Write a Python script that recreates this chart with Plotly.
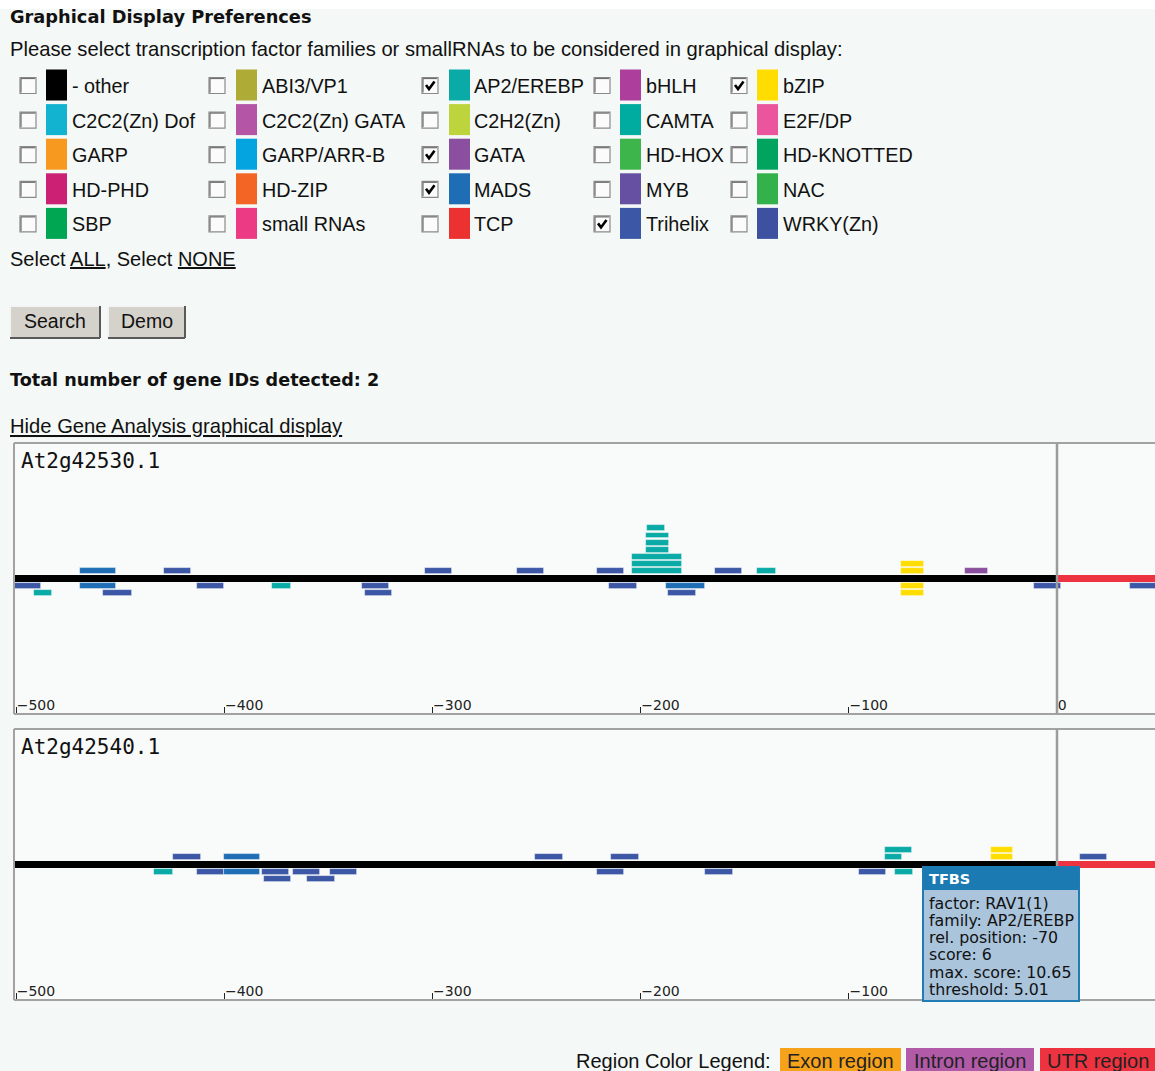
import plotly.graph_objects as go

W, H = 1155, 1071

# ---------------- data ----------------
FAMILIES = ["- other", "ABI3/VP1", "AP2/EREBP", "bHLH", "bZIP",
            "C2C2(Zn) Dof", "C2C2(Zn) GATA", "C2H2(Zn)", "CAMTA", "E2F/DP",
            "GARP", "GARP/ARR-B", "GATA", "HD-HOX", "HD-KNOTTED",
            "HD-PHD", "HD-ZIP", "MADS", "MYB", "NAC",
            "SBP", "small RNAs", "TCP", "Trihelix", "WRKY(Zn)"]
FAMILY_COLORS = ["#000000", "#aeab36", "#0aaaa6", "#ae3e9c", "#ffdd00",
                 "#12b3d0", "#b455a6", "#bdd43c", "#00ab9f", "#ea559e",
                 "#f7991f", "#03a4df", "#8a4f9e", "#3db54b", "#00a45f",
                 "#cb2073", "#f26524", "#1f6eb5", "#6650a2", "#33b14a",
                 "#00a651", "#ed3a85", "#ec3131", "#3c57a6", "#3e50a0"]
CHECKED = ["AP2/EREBP", "bZIP", "GATA", "MADS", "Trihelix"]

GENES = ["At2g42530.1", "At2g42540.1"]
TICK_VALUES = [-500, -400, -300, -200, -100, 0]
PROMOTER = [-501, 0]
UTR = [0, 60]

# gene 1 TFBS: start, end, family, stack row (+ above line, - below line)
G1_START = [-501, -491.5, -469.5, -469.5, -458, -429, -413, -377, -334, -332.5,
            -303.5, -259.5, -221, -215, -204, -204, -204, -197.5, -197.5, -197.5,
            -197, -188, -187, -164.5, -144, -75, -75, -75, -75, -44, -11, 35]
G1_END = [-488, -482.5, -452, -452, -444.5, -416, -400, -368, -321, -319.5,
          -290.5, -246.5, -208, -201.5, -180, -180, -180, -186.5, -186.5, -186.5,
          -188.5, -169, -173.5, -151.5, -135, -64, -64, -64, -64, -33, 2, 48]
G1_FAMILY = ["Trihelix", "AP2/EREBP", "MADS", "MADS", "Trihelix", "Trihelix", "Trihelix",
             "AP2/EREBP", "Trihelix", "Trihelix", "Trihelix", "Trihelix", "Trihelix",
             "Trihelix", "AP2/EREBP", "AP2/EREBP", "AP2/EREBP", "AP2/EREBP", "AP2/EREBP",
             "AP2/EREBP", "AP2/EREBP", "MADS", "Trihelix", "Trihelix", "AP2/EREBP",
             "bZIP", "bZIP", "bZIP", "bZIP", "GATA", "Trihelix", "Trihelix"]
G1_ROW = [-1, -2, 1, -1, -2, 1, -1, -1, -1, -2,
          1, 1, 1, -1, 1, 2, 3, 4, 5, 6,
          7, -1, -2, 1, 1, 1, 2, -1, -2, 1, -1, -1]

# gene 2 TFBS
G2_START = [-433.5, -424.5, -400, -413, -400, -382, -381, -367, -360, -349,
            -250.5, -214, -221, -169, -95, -82.5, -82.5, -78, -31.5, -31.5, 11]
G2_END = [-424.5, -411, -383, -400, -383, -369, -368, -354, -347, -336,
          -237.5, -201, -208, -155.5, -82, -74.5, -69.5, -69, -21, -21, 24]
G2_FAMILY = ["AP2/EREBP", "Trihelix", "MADS", "Trihelix", "MADS", "Trihelix", "Trihelix",
             "Trihelix", "Trihelix", "Trihelix", "Trihelix", "Trihelix", "Trihelix",
             "Trihelix", "Trihelix", "AP2/EREBP", "AP2/EREBP", "AP2/EREBP", "bZIP",
             "bZIP", "Trihelix"]
G2_ROW = [-1, 1, 1, -1, -1, -1, -2, -1, -2, -1,
          1, 1, -1, -1, -1, 1, 2, -1, 1, 2, 1]

TOOLTIP_TITLE = "TFBS"
TOOLTIP_LINES = ["factor: RAV1(1)", "family: AP2/EREBP", "rel. position: -70",
                 "score: 6", "max. score: 10.65", "threshold: 5.01"]

REGION_LEGEND = ["Exon region", "Intron region", "UTR region"]
REGION_COLORS = ["#f7a21b", "#b05aa8", "#ee3340"]

# ---------------- layout constants ----------------
PAGE_BG = "#f4f8f6"
PANEL_BG = "#f8fbf9"
BORDER = "#a2a2a2"
SANS = "Liberation Sans"
VERD = "DejaVu Sans"

PANEL_LEFT = 14
ZERO_PX = 1057
PX_PER_BP = 2.082
PANEL_TOPS = [443, 729]
PANEL_H = 271
ROW_PX = 7.17
XR = [(PANEL_LEFT - ZERO_PX) / PX_PER_BP, (W - ZERO_PX) / PX_PER_BP]
YHALF = PANEL_H / 2 / ROW_PX

fam_color = dict(zip(FAMILIES, FAMILY_COLORS))


def px(x):
    return x / W


def py(y):
    return 1 - y / H


def rect(x0, y0, x1, y1, fill=None, line=None, lw=0, layer="below"):
    d = dict(type="rect", xref="paper", yref="paper", x0=px(x0), x1=px(x1),
             y0=py(y1), y1=py(y0), layer=layer, line=dict(width=lw, color=line or "rgba(0,0,0,0)"))
    if fill:
        d["fillcolor"] = fill
    return d


def seg(x0, y0, x1, y1, color, lw, layer="below"):
    return dict(type="line", xref="paper", yref="paper", x0=px(x0), x1=px(x1),
                y0=py(y0), y1=py(y1), layer=layer, line=dict(color=color, width=lw))


def txt(x, y, s, size, family=SANS, color="#111", xanchor="left"):
    return dict(x=px(x), y=py(y), xref="paper", yref="paper", text=s, showarrow=False,
                xanchor=xanchor, yanchor="middle", font=dict(size=size, family=family, color=color),
                borderpad=0)


fig = go.Figure()
shapes = []
annos = []

# top white band
shapes.append(rect(0, 0, W, 9, fill="#ffffff"))

# ---------------- header texts ----------------
annos.append(txt(9, 17, "<b>Graphical Display Preferences</b>", 17.8, VERD, "#111"))
annos.append(txt(9, 49, "Please select transcription factor families or smallRNAs to be considered in graphical display:", 20.2))

COL_CB = [20, 209, 422, 594, 731]
COL_SW = [46, 236, 449, 620, 757]
COL_LB = [71, 261, 473, 645, 782]
ROW_Y = [85, 119.6, 154.2, 188.8, 223.4]

for i, (name, col) in enumerate(zip(FAMILIES, FAMILY_COLORS)):
    r, c = divmod(i, 5)
    yc = ROW_Y[r]
    # checkbox
    cx0, cy0 = COL_CB[c], yc - 7.5
    shapes.append(rect(cx0, cy0, cx0 + 16, cy0 + 16, fill="#fbfbfb", line="#8a8a8a", lw=1.2))
    shapes.append(seg(cx0 + 1, cy0 + 1, cx0 + 15, cy0 + 1, "#6e6e6e", 1.2))
    shapes.append(seg(cx0 + 1, cy0 + 1, cx0 + 1, cy0 + 15, "#6e6e6e", 1.2))
    if name in CHECKED:
        path = "M {} {} L {} {} L {} {}".format(
            px(cx0 + 4), py(cy0 + 7.5), px(cx0 + 7), py(cy0 + 11.5), px(cx0 + 12.5), py(cy0 + 4))
        shapes.append(dict(type="path", xref="paper", yref="paper", path=path,
                           line=dict(color="#000", width=2.6)))
    # swatch
    shapes.append(rect(COL_SW[c], yc - 15.5, COL_SW[c] + 21, yc + 15.5, fill=col))
    annos.append(txt(COL_LB[c], yc + 1, name, 19.8))

annos.append(txt(9, 259, "Select <u>ALL</u>, Select <u>NONE</u>", 20))

# buttons
for (bx0, bx1, label) in [(10, 100, "Search"), (108, 185, "Demo")]:
    shapes.append(rect(bx0, 306, bx1, 338, fill="#d5d2cb"))
    shapes.append(seg(bx0, 306, bx1, 306, "#f4f4f4", 2))
    shapes.append(seg(bx0, 306, bx0, 338, "#f4f4f4", 2))
    shapes.append(seg(bx0, 338, bx1, 338, "#5a5a5a", 2))
    shapes.append(seg(bx1, 306, bx1, 338, "#5a5a5a", 2))
    annos.append(txt((bx0 + bx1) / 2, 321, label, 19.5, xanchor="center"))

annos.append(txt(9, 380, "<b>Total number of gene IDs detected: 2</b>", 17.6, VERD, "#111"))
annos.append(txt(9, 426, "<u>Hide Gene Analysis graphical display</u>", 20.2))

# ---------------- gene panels ----------------
genes_data = [(G1_START, G1_END, G1_FAMILY, G1_ROW), (G2_START, G2_END, G2_FAMILY, G2_ROW)]
layout_axes = {}
for gi, (gname, (st, en, fm, rw)) in enumerate(zip(GENES, genes_data)):
    xa = "x" if gi == 0 else "x2"
    ya = "y" if gi == 0 else "y2"
    top = PANEL_TOPS[gi]
    bottom = top + PANEL_H
    # promoter and UTR lines
    fig.add_trace(go.Bar(orientation="h", y=[0], base=[PROMOTER[0]], x=[PROMOTER[1] - PROMOTER[0]],
                         width=1.0, marker=dict(color="#000000", line=dict(width=0)),
                         xaxis=xa, yaxis=ya, showlegend=False, hoverinfo="skip"))
    fig.add_trace(go.Bar(orientation="h", y=[0], base=[UTR[0]], x=[UTR[1] - UTR[0]],
                         width=1.0, marker=dict(color=REGION_COLORS[2], line=dict(width=0)),
                         xaxis=xa, yaxis=ya, showlegend=False, hoverinfo="skip"))
    fig.add_trace(go.Bar(orientation="h", y=rw, base=st, x=[e - s for s, e in zip(st, en)],
                         width=0.8,
                         marker=dict(color=[fam_color[f] for f in fm],
                                     line=dict(width=0.8, color="rgba(255,255,255,0.55)")),
                         xaxis=xa, yaxis=ya, showlegend=False,
                         customdata=fm, hovertemplate="%{customdata}<extra></extra>"))
    dom_y = [py(bottom), py(top)]
    xkey = "xaxis" if gi == 0 else "xaxis2"
    ykey = "yaxis" if gi == 0 else "yaxis2"
    layout_axes[xkey] = dict(domain=[px(PANEL_LEFT), 1], range=XR, anchor=ya,
                             showgrid=False, zeroline=False, showline=False,
                             tickvals=TICK_VALUES, ticks="inside", ticklen=7, tickwidth=1.4,
                             tickcolor="#222", ticklabelposition="inside right",
                             ticklabelstandoff=-5,
                             tickfont=dict(size=14, family=VERD, color="#222"),
                             fixedrange=True)
    layout_axes[ykey] = dict(domain=dom_y, range=[-YHALF, YHALF], anchor=xa, visible=False,
                             fixedrange=True)
    # panel border
    shapes.append(seg(PANEL_LEFT, top, W, top, BORDER, 2, "above"))
    shapes.append(seg(PANEL_LEFT, bottom, W, bottom, BORDER, 2, "above"))
    shapes.append(seg(PANEL_LEFT, top, PANEL_LEFT, bottom, BORDER, 2, "above"))
    # zero line
    shapes.append(dict(type="line", xref=xa, yref=ya + " domain", x0=0, x1=0, y0=0, y1=1,
                       layer="above", line=dict(color="#9c9c9c", width=2.5)))
    annos.append(txt(20, top + 18, gname, 21, "DejaVu Sans Mono", "#111"))

# ---------------- tooltip ----------------
TX0, TY0, TX1, TY1 = 923, 867, 1079, 1001
shapes.append(rect(TX0, TY0, TX1, TY1, fill="#a9c4db", line="#1f7cb5", lw=2, layer="above"))
shapes.append(rect(TX0, TY0, TX1, 890, fill="#1b7ab2", layer="above"))
annos.append(txt(927.5, 879, "<b>" + TOOLTIP_TITLE + "</b>", 14.5, VERD, "#ffffff"))
for k, line in enumerate(TOOLTIP_LINES):
    annos.append(txt(927.5, 903.3 + k * 17.2, line, 15.8, VERD, "#111"))

# ---------------- region colour legend ----------------
annos.append(txt(575, 1061, "Region Color Legend:", 20))
REG_X = [(780, 901), (906, 1034), (1040, 1155)]
for (x0, x1), lab, col in zip(REG_X, REGION_LEGEND, REGION_COLORS):
    shapes.append(rect(x0, 1048, x1, 1071, fill=col))
    annos.append(txt((x0 + x1) / 2, 1061, lab, 20, SANS, "#222", xanchor="center"))

fig.update_layout(width=W, height=H, margin=dict(l=0, r=0, t=0, b=0),
                  paper_bgcolor=PAGE_BG, plot_bgcolor=PANEL_BG, barmode="overlay",
                  bargap=0, shapes=shapes, annotations=annos, showlegend=False,
                  **layout_axes)

fig.write_html("out.html", config={"displayModeBar": False},
               post_script="document.body.style.margin='0';document.body.style.padding='0';"
                           "document.body.style.overflow='hidden';"
                           "document.documentElement.style.overflow='hidden';")
